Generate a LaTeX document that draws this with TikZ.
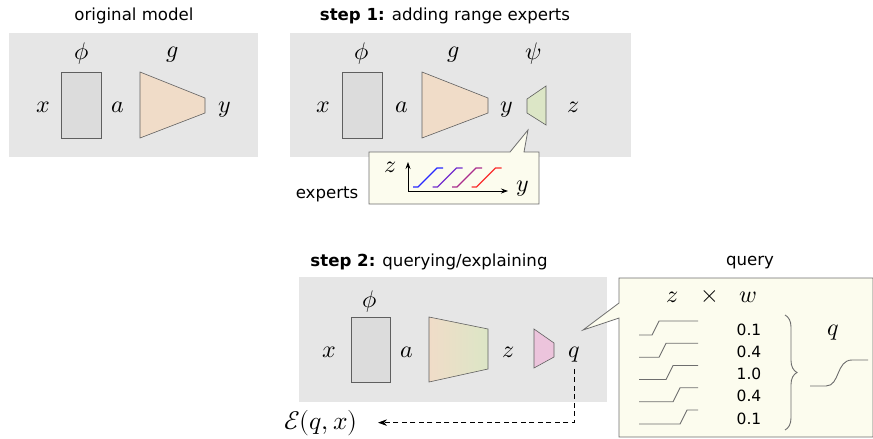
\documentclass[tikz,border=0pt]{standalone}
\usepackage{fontspec}
\usepackage{unicode-math}
\setmathfont{Latin Modern Math}
\newfontfamily\sans{DejaVu Sans}
\usetikzlibrary{arrows.meta,decorations.pathreplacing}
\definecolor{bgG}{RGB}{230,230,230}
\definecolor{boxG}{RGB}{220,220,220}
\definecolor{edgeG}{RGB}{95,95,95}
\definecolor{peach}{RGB}{240,220,200}
\definecolor{sage}{RGB}{220,230,198}
\definecolor{pinkish}{RGB}{236,196,220}
\definecolor{callF}{RGB}{252,252,238}
\definecolor{callE}{RGB}{110,110,110}
\definecolor{rampA}{RGB}{40,40,255}
\definecolor{rampB}{RGB}{115,45,205}
\definecolor{rampC}{RGB}{170,45,140}
\definecolor{rampD}{RGB}{250,45,45}
\definecolor{stepG}{RGB}{110,110,110}
\begin{document}
\begin{tikzpicture}[x=1pt,y=-1pt,
  mlab/.style={anchor=base,inner sep=0pt,font=\fontsize{24}{28}\selectfont},
  title/.style={anchor=base,inner sep=0pt,font=\sans\fontsize{16.6}{20}\selectfont},
  numlab/.style={anchor=base,inner sep=0pt,font=\sans\fontsize{15.5}{18}\selectfont},
  boxst/.style={draw=edgeG,fill=boxG,line width=0.6pt,minimum width=40pt,minimum height=66pt,inner sep=0pt},
  trap/.style={draw=edgeG,line width=0.6pt},
  callout/.style={draw=callE,fill=callF,line width=0.8pt},
  ramp/.style={line width=1.3pt},
  stepc/.style={draw=stepG,line width=0.9pt},
  conn/.style={dash pattern=on 5pt off 3.5pt,line width=0.8pt,-{Stealth[length=9pt,width=6.5pt]}}]
\useasboundingbox (0,0) rectangle (873,439);
% ---------- panel 1 ----------
\fill[bgG] (9,33) rectangle (258,157);
\node[title] (t1) at (134,20) {original model};
\node[mlab] (phi1) at (82,59) {$\phi$};
\node[mlab] (g1) at (173,57) {$g$};
\node[mlab] (x1) at (43,112) {$x$};
\node[boxst] (b1) at (81,105) {};
\node[mlab] (a1) at (118,112) {$a$};
\draw[trap,fill=peach] (140,72) -- (205,98) -- (205,113) -- (140,138) -- cycle;
\node[mlab] (y1) at (225,112) {$y$};
% ---------- panel 2 ----------
\fill[bgG] (290,33) rectangle (631,157);
\node[title] (t2) at (445,20) {{\bfseries step 1:} adding range experts};
\node[mlab] (phi2) at (362,59) {$\phi$};
\node[mlab] (g2) at (454,57) {$g$};
\node[mlab] (psi2) at (533,59) {$\psi$};
\node[mlab] (x2) at (323,112) {$x$};
\node[boxst] (b2) at (362.5,105) {};
\node[mlab] (a2) at (402,112) {$a$};
\draw[trap,fill=peach] (422,72) -- (488,98) -- (488,113) -- (422,138) -- cycle;
\node[mlab] (y2) at (507,112) {$y$};
\draw[trap,fill=sage] (527,99) -- (546,86) -- (546,125) -- (527,113) -- cycle;
\node[mlab] (z2) at (573,112) {$z$};
% callout 1
\draw[callout] (369,152) -- (510,152) -- (528,130) -- (524,152) -- (539,152) -- (539,204) -- (369,204) -- cycle;
\node[title] (exp) at (327,198) {experts};
\node[mlab] (cz) at (390,172) {$z$};
\node[mlab] (cy) at (523,191) {$y$};
\coordinate (org) at (408,191);
\coordinate (ytop) at (408,162);
\coordinate (xend) at (508,191);
\draw[line width=0.8pt,-{Stealth[length=7pt,width=5pt]}] (org) -- (ytop);
\draw[line width=0.8pt,-{Stealth[length=7pt,width=5pt]}] (org) -- (xend);
\foreach \i/\c in {0/rampA,1/rampB,2/rampC,3/rampD}{
  \draw[ramp,\c] ({413+19.5*\i},187) -- ({418+19.5*\i},187) -- ({437+19.5*\i},168) -- ({443+19.5*\i},168);
}
% ---------- panel 3 ----------
\fill[bgG] (299,277) rectangle (607,402);
\node[title] (t3) at (429,266) {{\bfseries step 2:} querying/explaining};
\node[mlab] (phi3) at (370,307) {$\phi$};
\node[mlab] (x3) at (329,357) {$x$};
\node[boxst,minimum width=39pt,minimum height=65pt] (b3) at (370.5,349.5) {};
\node[mlab] (a3) at (407,357) {$a$};
\draw[trap,left color=peach,right color=sage] (429,317) -- (488,329) -- (488,369) -- (429,382) -- cycle;
\node[mlab] (z3) at (508,357) {$z$};
\draw[trap,fill=pinkish] (534,329) -- (554,343) -- (554,357) -- (534,368) -- cycle;
\node[mlab] (q3) at (574,357) {$q$};
\node[mlab,font=\fontsize{25.5}{30}\selectfont] (E) at (321,429) {$\mathcal{E}(q,x)$};
\draw[conn,shorten <=7pt,shorten >=20pt] (q3.south) |- (E.east);
% callout 2
\draw[callout] (619,278) -- (873,278) -- (873,437) -- (619,437) -- (619,318) -- (583,330) -- (619,303) -- cycle;
\node[title] (qt) at (750,265) {query};
\node[mlab] (z4) at (672,302) {$z$};
\node[mlab] (times) at (710,302) {$\times$};
\node[mlab] (w4) at (748,302) {$w$};
\foreach \i/\v in {0/0.1,1/0.4,2/1.0,3/0.4,4/0.1}{
  \node[numlab] (n\i) at (749,{335+22.25*\i}) {\v};
  \draw[stepc] (639,{335+22.25*\i}) -- ({652+7*\i},{335+22.25*\i}) -- ({659+7*\i},{321+22.25*\i}) -- (698,{321+22.25*\i});
}
\draw[stepG,line width=0.9pt,decorate,decoration={brace,amplitude=12pt}] (785,315) -- (785,430);
\node[mlab] (q4) at (833,335) {$q$};
\draw[stepc] (810,386) -- (826,386) .. controls (840,386) and (836,360) .. (852,360) -- (868,360);
\end{tikzpicture}
\end{document}
